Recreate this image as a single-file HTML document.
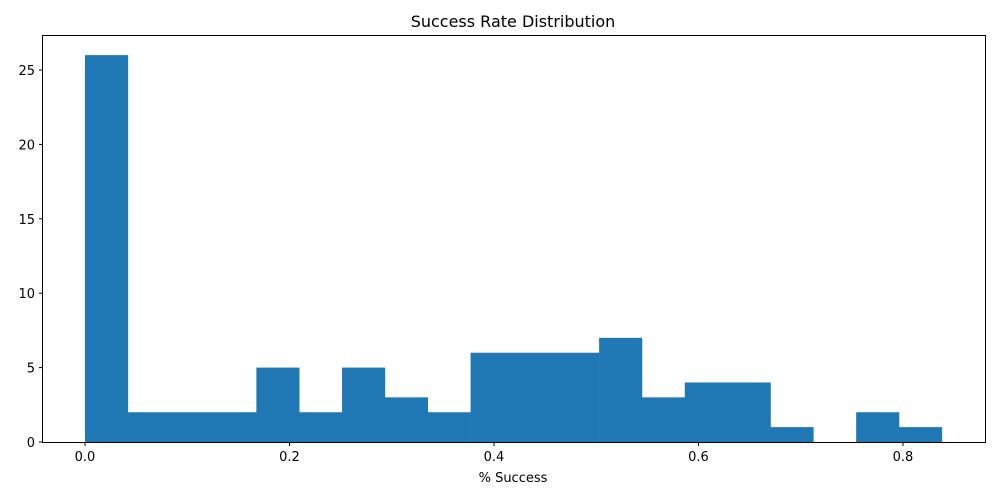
<!DOCTYPE html>
<html><head><meta charset="utf-8"><style>
html,body{margin:0;padding:0;background:#fff;}
svg{display:block;font-family:"DejaVu Sans","Liberation Sans",sans-serif;}
</style></head><body>
<svg id="chart" width="1000" height="500"></svg>
<script>
const binCounts = [26,2,2,2,5,2,5,3,2,6,6,6,7,3,4,4,1,0,2,1];
const binStart = 0.0;
const binEnd = 0.838;
const xTicks = [0.0,0.2,0.4,0.6,0.8];
const xTickLabels = ["0.0","0.2","0.4","0.6","0.8"];
const yTicks = [0,5,10,15,20,25];
const yTickLabels = ["0","5","10","15","20","25"];

const NS="http://www.w3.org/2000/svg";
const svg=document.getElementById('chart');
const L=42,R=985,T=35,B=442;
const xs=v=>85+(v-0)*(903-85)/0.8;
const ys=v=>B-v*(B-70)/25;
function mk(tag,attrs,parent){const e=document.createElementNS(NS,tag);for(const k in attrs)e.setAttribute(k,attrs[k]);(parent||svg).appendChild(e);return e;}

const bars=mk('g',{});


const w=(binEnd-binStart)/binCounts.length;
binCounts.forEach((c,i)=>{
  if(c<=0)return;
  const x0=xs(binStart+i*w),x1=xs(binStart+(i+1)*w);
  const r=mk('rect',{x:x0,y:ys(c),width:x1-x0+0.3,height:ys(0)-ys(c),fill:'#1f77b4'},bars);
  
  
});

const frame=mk('rect',{x:L+0.5,y:T+0.5,width:R-L,height:B-T,fill:'none',stroke:'#000','stroke-width':1});



xTicks.forEach((v,i)=>{
  const x=xs(v);
  mk('line',{x1:x,x2:x,y1:B+0.5,y2:B+4,stroke:'#000'});
  const t=mk('text',{x:x,y:B+19,'text-anchor':'middle','font-size':13,fill:'#000'});
  t.textContent=xTickLabels[i];
  
  
});
yTicks.forEach((v,i)=>{
  const y=ys(v);
  mk('line',{x1:L-3,x2:L+0.5,y1:y,y2:y,stroke:'#000'});
  const t=mk('text',{x:L-7,y:y+5,'text-anchor':'end','font-size':13,fill:'#000'});
  t.textContent=yTickLabels[i];
  
  
});
const xt=mk('text',{x:513,y:482,'text-anchor':'middle','font-size':13});
xt.textContent='% Success';


const tt=mk('text',{x:513,y:27,'text-anchor':'middle','font-size':16});
tt.textContent='Success Rate Distribution';


</script>
</body></html>
